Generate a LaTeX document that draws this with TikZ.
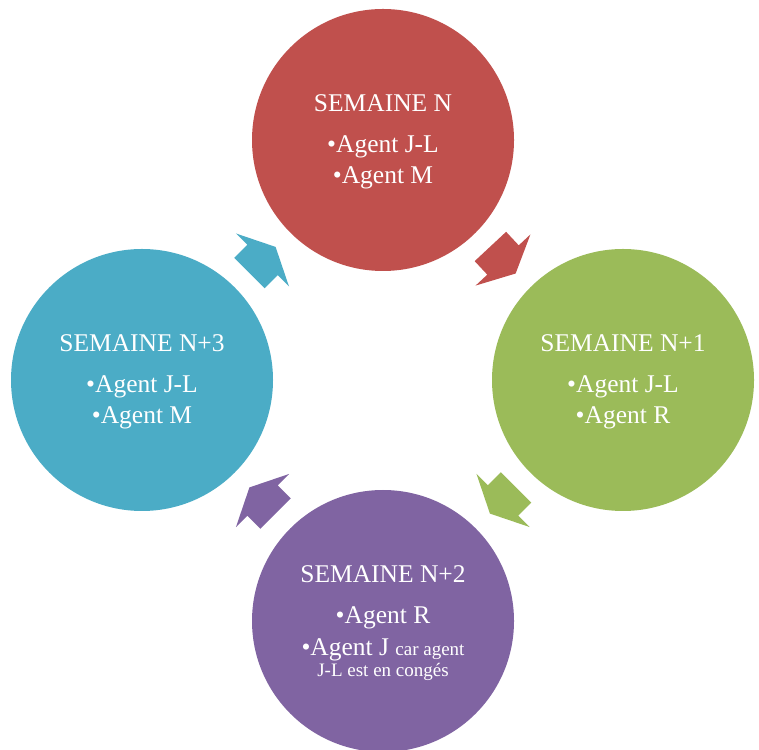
\documentclass[tikz,border=0pt]{standalone}
\usepackage{fontspec}
\setmainfont{Liberation Serif}
\usetikzlibrary{calc}

\definecolor{weekN}{HTML}{C0504D}
\definecolor{weekNa}{HTML}{9BBB59}
\definecolor{weekNb}{HTML}{8064A2}
\definecolor{weekNc}{HTML}{4BACC6}

\tikzset{
  week/.style={circle, minimum size=262pt, inner sep=0pt, fill=#1},
  weektitle/.style={text=white, anchor=base, inner sep=0pt,
    font=\fontsize{25.5}{30}\selectfont},
  weekitem/.style={weektitle},
  weeknote/.style={text=white, anchor=base, inner sep=0pt,
    font=\fontsize{19}{22}\selectfont},
  % block arrow of the rota cycle, pointing along +x
  cyclearrow/.pic={
    \path[pic actions] (-18.5,-21.5) -- (0,-21.5) -- (0,-37.5) -- (18.5,0)
      -- (0,37.5) -- (0,21.5) -- (-18.5,21.5) -- cycle;
  }
}

\begin{document}
\begin{tikzpicture}[x=1pt, y=1pt]
  \useasboundingbox (0,0) rectangle (759,749);
  \clip (0,0) rectangle (759,749);

  % the four weeks of the rota
  \node[week=weekN]  (wN)  at (383,609) {};
  \node[week=weekNa] (wN1) at (623,369) {};
  \node[week=weekNb] (wN2) at (383,128) {};
  \node[week=weekNc] (wN3) at (142,369) {};

  % arrows from one week to the next
  \pic[fill=weekN,  rotate=-47]  at ($(wN)!0.5!(wN1)$)  {cyclearrow};
  \pic[fill=weekNa, rotate=-135] at ($(wN1)!0.5!(wN2)$) {cyclearrow};
  \pic[fill=weekNb, rotate=135]  at ($(wN2)!0.5!(wN3)$) {cyclearrow};
  \pic[fill=weekNc, rotate=45]   at ($(wN3)!0.5!(wN)$)  {cyclearrow};

  % week N
  \node[weektitle] (tN)  at ($(wN)+(0,28)$)   {SEMAINE N};
  \node[weekitem]  (aN1) at ($(wN)+(0,-13)$)  {•Agent J-L};
  \node[weekitem]  (aN2) at ($(wN)+(0,-44)$)  {•Agent M};

  % week N+1
  \node[weektitle] (tN1)  at ($(wN1)+(0,28)$)  {SEMAINE N+1};
  \node[weekitem]  (aN11) at ($(wN1)+(0,-13)$) {•Agent J-L};
  \node[weekitem]  (aN12) at ($(wN1)+(0,-44)$) {•Agent R};

  % week N+2
  \node[weektitle] (tN2)  at ($(wN2)+(0,38)$)  {SEMAINE N+2};
  \node[weekitem]  (aN21) at ($(wN2)+(0,-2)$)  {•Agent R};
  \node[weekitem]  (aN22) at ($(wN2)+(0,-34)$)
    {•Agent J {\fontsize{19}{22}\selectfont car agent}};
  \node[weeknote]  (aN23) at ($(wN2)+(0,-55)$) {J-L est en congés};

  % week N+3
  \node[weektitle] (tN3)  at ($(wN3)+(0,28)$)  {SEMAINE N+3};
  \node[weekitem]  (aN31) at ($(wN3)+(0,-13)$) {•Agent J-L};
  \node[weekitem]  (aN32) at ($(wN3)+(0,-44)$) {•Agent M};
\end{tikzpicture}
\end{document}
